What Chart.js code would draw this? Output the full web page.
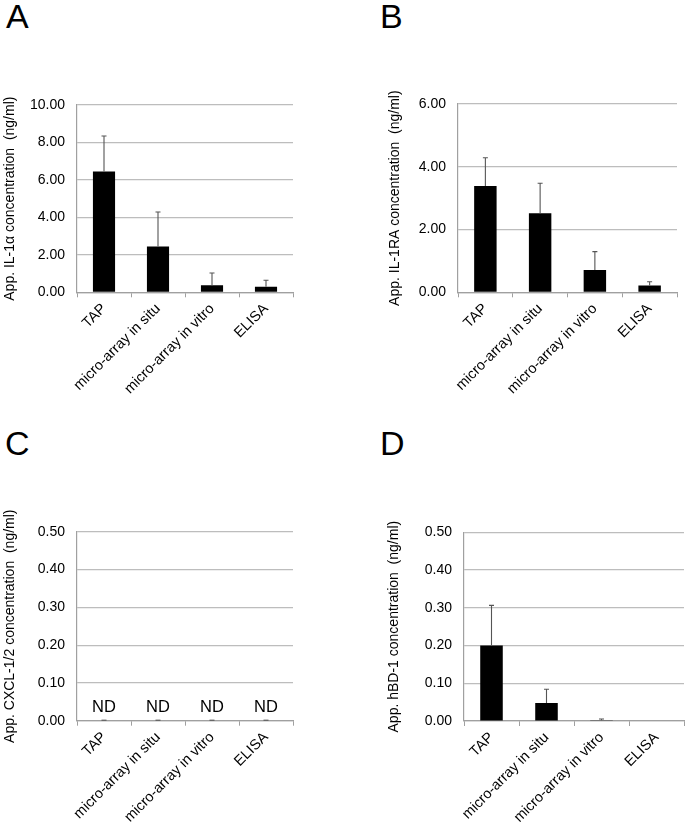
<!DOCTYPE html>
<html>
<head>
<meta charset="utf-8">
<script src="https://cdn.jsdelivr.net/npm/chart.js@4.4.0/dist/chart.umd.min.js"></script>
<style>
  html, body { margin: 0; padding: 0; background: #fff; }
  body { width: 685px; height: 824px; position: relative; overflow: hidden; font-family: "Liberation Sans", Arial, sans-serif; }
  .panel { position: absolute; }
  .letter { position: absolute; font-size: 34px; line-height: 34px; color: #000; font-family: "Liberation Sans", Arial, sans-serif; }
</style>
</head>
<body>
<div class="panel" style="left:0px;top:80px;"><canvas id="cA" width="300" height="340"></canvas></div>
<div class="panel" style="left:385px;top:80px;"><canvas id="cB" width="300" height="340"></canvas></div>
<div class="panel" style="left:0px;top:495px;"><canvas id="cC" width="300" height="329"></canvas></div>
<div class="panel" style="left:384px;top:495px;"><canvas id="cD" width="301" height="329"></canvas></div>

<div class="letter" style="left:6px;top:-1px;">A</div>
<div class="letter" style="left:380px;top:-1px;">B</div>
<div class="letter" style="left:5px;top:426px;">C</div>
<div class="letter" style="left:380px;top:426px;">D</div>

<script>
// ---- Data ----
const categories = ['TAP', 'micro-array in situ', 'micro-array in vitro', 'ELISA'];

const valuesA = [6.45, 2.44, 0.37, 0.30];
const errorsA = [1.87, 1.82, 0.63, 0.32];

const valuesB = [3.39, 2.52, 0.71, 0.22];
const errorsB = [0.88, 0.94, 0.57, 0.10];

const valuesC = [0, 0, 0, 0];
const errorsC = [0, 0, 0, 0];
const labelsC = ['ND', 'ND', 'ND', 'ND'];

const valuesD = [0.20, 0.048, 0.002, 0];
const errorsD = [0.105, 0.035, 0.002, null];

const titleA = 'App. IL-1\u03b1 concentration  (ng/ml)';
const titleB = 'App. IL-1RA concentration  (ng/ml)';
const titleC = 'App. CXCL-1/2 concentration  (ng/ml)';
const titleD = 'App. hBD-1 concentration  (ng/ml)';

const yMaxA = 10, yStepA = 2;
const yMaxB = 6, yStepB = 2;
const yMaxC = 0.5, yStepC = 0.1;
const yMaxD = 0.5, yStepD = 0.1;

// ---- Plugin: error bars & ND labels ----
const errorBars = {
  id: 'errorBars',
  afterDatasetsDraw(chart, args, opts) {
    const ctx = chart.ctx;
    const yScale = chart.scales.y;
    const meta = chart.getDatasetMeta(0);
    const data = chart.data.datasets[0].data;
    ctx.save();
    if (opts.errors) {
      ctx.strokeStyle = '#555555';
      ctx.lineWidth = 1.1;
      meta.data.forEach((bar, i) => {
        const e = opts.errors[i];
        if (e === null || e === undefined) return;
        const v = data[i];
        const x = bar.x;
        const y0 = yScale.getPixelForValue(v);
        const y1 = yScale.getPixelForValue(v + e);
        ctx.beginPath();
        ctx.moveTo(x, y0);
        ctx.lineTo(x, y1);
        ctx.moveTo(x - 2.5, y1 - 0.5);
        ctx.lineTo(x + 2.5, y1 - 0.5);
        ctx.stroke();
      });
    }
    if (opts.labels) {
      ctx.fillStyle = '#000';
      ctx.font = '16.5px "Liberation Sans", Arial, sans-serif';
      ctx.textAlign = 'center';
      ctx.textBaseline = 'middle';
      meta.data.forEach((bar, i) => {
        const v = data[i];
        ctx.fillText(opts.labels[i], bar.x, yScale.getPixelForValue(v) - 13);
      });
    }
    ctx.restore();
  }
};

function makeChart(id, box, area, values, errors, labels, title, yMax, yStep) {
  const yWidth = area.l - box.left;
  const xHeight = box.top + box.height - area.b;
  return new Chart(document.getElementById(id), {
    type: 'bar',
    data: {
      labels: categories,
      datasets: [{
        data: values,
        backgroundColor: '#000000',
        borderWidth: 0,
        barPercentage: 0.41,
        categoryPercentage: 1.0
      }]
    },
    options: {
      responsive: false,
      animation: false,
      layout: {
        padding: { left: 0, right: box.left + box.width - area.r, top: area.t - box.top, bottom: 0 }
      },
      plugins: {
        legend: { display: false },
        tooltip: { enabled: false },
        errorBars: { errors: errors, labels: labels }
      },
      scales: {
        x: {
          offset: true,
          grid: { display: true, drawOnChartArea: false, drawTicks: true, tickLength: 5, color: '#a0a0a0', offset: true },
          border: { display: true, color: '#a0a0a0', width: 1.2 },
          ticks: {
            autoSkip: false, maxRotation: 45, minRotation: 45, padding: 3,
            color: '#000',
            font: { family: '"Liberation Sans", Arial, sans-serif', size: 14.5 }
          },
          afterFit(scale) { scale.height = xHeight; }
        },
        y: {
          min: 0, max: yMax,
          grid: { color: '#bdbdbd', lineWidth: 1.2, drawTicks: false },
          border: { display: true, color: '#a0a0a0', width: 1.2 },
          ticks: {
            stepSize: yStep, padding: 12, color: '#000',
            font: { family: '"Liberation Sans", Arial, sans-serif', size: 14 },
            callback: (v) => Number(v).toFixed(2)
          },
          title: {
            display: true, text: title, color: '#000',
            padding: { top: 2, bottom: 0 },
            font: { family: '"Liberation Sans", Arial, sans-serif', size: 14 }
          },
          afterFit(scale) { scale.width = yWidth; }
        }
      }
    },
    plugins: [errorBars]
  });
}

makeChart('cA', { left: 0, top: 80, width: 300, height: 340 }, { l: 77, r: 293, t: 105, b: 292.3 },
  valuesA, errorsA, null, titleA, yMaxA, yStepA);
makeChart('cB', { left: 385, top: 80, width: 300, height: 340 }, { l: 458, r: 677, t: 104, b: 292.3 },
  valuesB, errorsB, null, titleB, yMaxB, yStepB);
makeChart('cC', { left: 0, top: 495, width: 300, height: 329 }, { l: 77, r: 293, t: 531.7, b: 720.7 },
  valuesC, errorsC, labelsC, titleC, yMaxC, yStepC);
makeChart('cD', { left: 384, top: 495, width: 301, height: 329 }, { l: 464, r: 684, t: 532.3, b: 721 },
  valuesD, errorsD, null, titleD, yMaxD, yStepD);
</script>
</body>
</html>
